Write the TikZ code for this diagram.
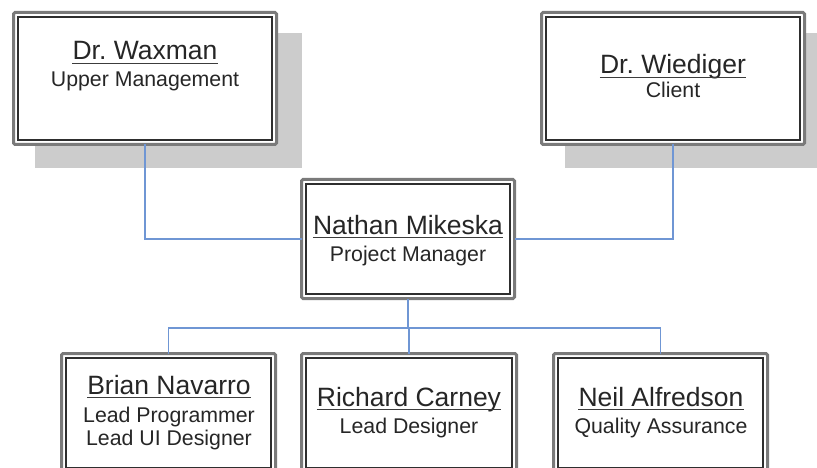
\documentclass[tikz,border=0pt]{standalone}
\usepackage{fontspec}
\setmainfont{Liberation Sans}
\frenchspacing
\definecolor{shadowc}{HTML}{CCCCCC}
\definecolor{connc}{HTML}{6F96D4}
\definecolor{outerc}{HTML}{7A7A7A}
\definecolor{innerc}{HTML}{2E2E2E}
\definecolor{txtc}{HTML}{262626}
\tikzset{
  orgbox/.style={draw=outerc, line width=3pt, rounded corners=1.5pt, fill=white, inner sep=0pt, outer sep=0pt, minimum width=214pt, minimum height=119pt},
  innerline/.style={draw=innerc, line width=1.8pt},
  conn/.style={draw=connc, line width=1.8pt},
  shadowbox/.style={fill=shadowc},
  titletxt/.style={anchor=base, inner sep=0pt, text=txtc, font=\frenchspacing\fontsize{26.5}{30}\selectfont},
  subtxt/.style={anchor=base, inner sep=0pt, text=txtc, font=\frenchspacing\fontsize{21.3}{24}\selectfont},
  ulline/.style={draw=txtc!90, line width=1.5pt}
}
\begin{document}
\begin{tikzpicture}[x=1pt,y=-1pt]
\clip (0,0) rectangle (817,468);
\fill[white] (0,0) rectangle (817,468);
% shadows
\fill[shadowbox] (35,33) rectangle (302,168);
\fill[shadowbox] (565,33) rectangle (830,168);
% boxes
\node[orgbox, minimum width=263pt, minimum height=132pt] (wax) at (145,78.5) {};
\node[orgbox, minimum width=263pt, minimum height=132pt] (wie) at (673,78.5) {};
\node[orgbox, minimum width=213pt, minimum height=119pt] (nat) at (408,239) {};
\node[orgbox, minimum width=214pt, minimum height=119pt] (bri) at (168.5,413) {};
\node[orgbox, minimum width=215pt, minimum height=119pt] (ric) at (409,413) {};
\node[orgbox, minimum width=214pt, minimum height=119pt] (nei) at (660.5,413) {};
\foreach \n in {wax,wie,nat,bri,ric,nei}{
  \draw[innerline] ([shift={(4.6pt,-4.6pt)}]\n.north west) rectangle ([shift={(-4.6pt,4.6pt)}]\n.south east);
}
% connectors
\draw[conn] (wax.south) |- (nat.west);
\draw[conn] (wie.south) |- (nat.east);
\coordinate (bus) at (408,328);
\draw[conn] (nat.south) -- (bus);
\draw[conn] (bri.north) |- (bus) -| (nei.north);
\draw[conn] (ric.north) -- (ric.north |- bus);
% texts
\node[titletxt] (waxT) at (145,60) {Dr. Waxman};
\node[subtxt] (waxS) at (145,87) {Upper Management};
\node[titletxt] (wieT) at (673,74) {Dr. Wiediger};
\node[subtxt] (wieS) at (673,98) {Client};
\node[titletxt] (natT) at (408,234) {Nathan Mikeska};
\node[subtxt] (natS) at (408,261) {Project Manager};
\node[titletxt] (briT) at (169,394) {Brian Navarro};
\node[subtxt] (briS) at (169,422) {Lead Programmer};
\node[subtxt] (briS2) at (169,445) {Lead UI Designer};
\node[titletxt] (ricT) at (409,406) {Richard Carney};
\node[subtxt] (ricS) at (409,433) {Lead Designer};
\node[titletxt] (neiT) at (661,406) {Neil Alfredson};
\node[subtxt] (neiS) at (661,433) {Quality Assurance};
\foreach \t in {waxT,wieT,natT,briT,ricT,neiT}{
  \draw[ulline] ([yshift=-3.5pt]\t.base west) -- ([yshift=-3.5pt]\t.base east);
}
\end{tikzpicture}
\end{document}
